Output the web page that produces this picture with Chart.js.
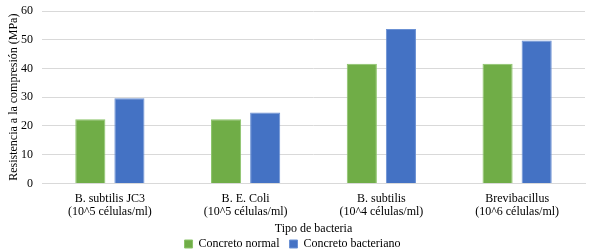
<!DOCTYPE html>
<html>
<head>
<meta charset="utf-8">
<script src="https://cdn.jsdelivr.net/npm/chart.js@4.4.0/dist/chart.umd.min.js"></script>
<style>
  html, body { margin: 0; padding: 0; background: #fff; }
  #wrap { width: 589px; height: 251px; position: relative; }
</style>
</head>
<body>
<div id="wrap"><canvas id="graph_bacteria"></canvas></div>
<script>
// categorías y valores
const bacterias = [
    ['B. subtilis JC3', '(10^5 células/ml)'],
    ['B. E. Coli', '(10^5 células/ml)'],
    ['B. subtilis', '(10^4 células/ml)'],
    ['Brevibacillus', '(10^6 células/ml)']
];
const concretoNormal = [22.3, 22.3, 41.6, 41.6];
const concretoBacteriano = [29.6, 24.7, 53.7, 49.7];
const ticksY = [0, 10, 20, 30, 40, 50, 60];

const fuente = "'Liberation Serif', 'Times New Roman', serif";
Chart.defaults.font.family = fuente;

const data_graph = {
    labels: bacterias,
    datasets: [{
        label: 'Concreto normal',
        data: concretoNormal,
        backgroundColor: '#70AD47',
        borderColor: '#8cc46a',
        borderWidth: 1,
        categoryPercentage: 0.576,
        barPercentage: 0.77
    },{
        label: 'Concreto bacteriano',
        data: concretoBacteriano,
        backgroundColor: '#4472C4',
        borderColor: '#6b91d4',
        borderWidth: 1,
        categoryPercentage: 0.576,
        barPercentage: 0.77
    }]
};

const config = {
    type: 'bar',
    data: data_graph,
    options: {
        responsive: true,
        maintainAspectRatio: false,
        animation: false,
        layout: { padding: { left: 0, right: 4, top: 11, bottom: -9 } },
        scales: {
            x: {
                grid: { display: false, drawTicks: false },
                border: { color: '#d9d9d9' },
                ticks: {
                    color: '#000',
                    font: { family: fuente, size: 12, lineHeight: 1.1 },
                    padding: 9,
                    maxRotation: 0
                },
                title: {
                    display: true,
                    text: 'Tipo de bacteria',
                    color: '#000',
                    font: { family: fuente, size: 12, lineHeight: 1.1 },
                    padding: { top: -6, bottom: -7 }
                }
            },
            y: {
                min: 0,
                max: 60,
                afterBuildTicks: function(scale) {
                    scale.ticks = ticksY.map(v => ({ value: v }));
                },
                afterFit: function(scale) {
                    scale.width = 42;
                    scale.paddingTop = 0;
                    scale.paddingBottom = 0;
                },
                grid: { color: '#d9d9d9', drawTicks: false },
                border: { display: false },
                ticks: {
                    color: '#000',
                    font: { family: fuente, size: 12 },
                    padding: 9
                },
                title: {
                    display: true,
                    text: 'Resistencia a la compresión (MPa)',
                    color: '#000',
                    font: { family: fuente, size: 12 },
                    padding: { top: 7, bottom: 0 }
                }
            }
        },
        plugins: {
            legend: {
                position: 'bottom',
                labels: {
                    color: '#000',
                    font: { family: fuente, size: 12 },
                    boxWidth: 8,
                    boxHeight: 8,
                    padding: 10
                }
            },
            tooltip: { enabled: false }
        }
    }
};

const bacteria_chart = new Chart(
    document.getElementById('graph_bacteria'),
    config
);
</script>
</body>
</html>
